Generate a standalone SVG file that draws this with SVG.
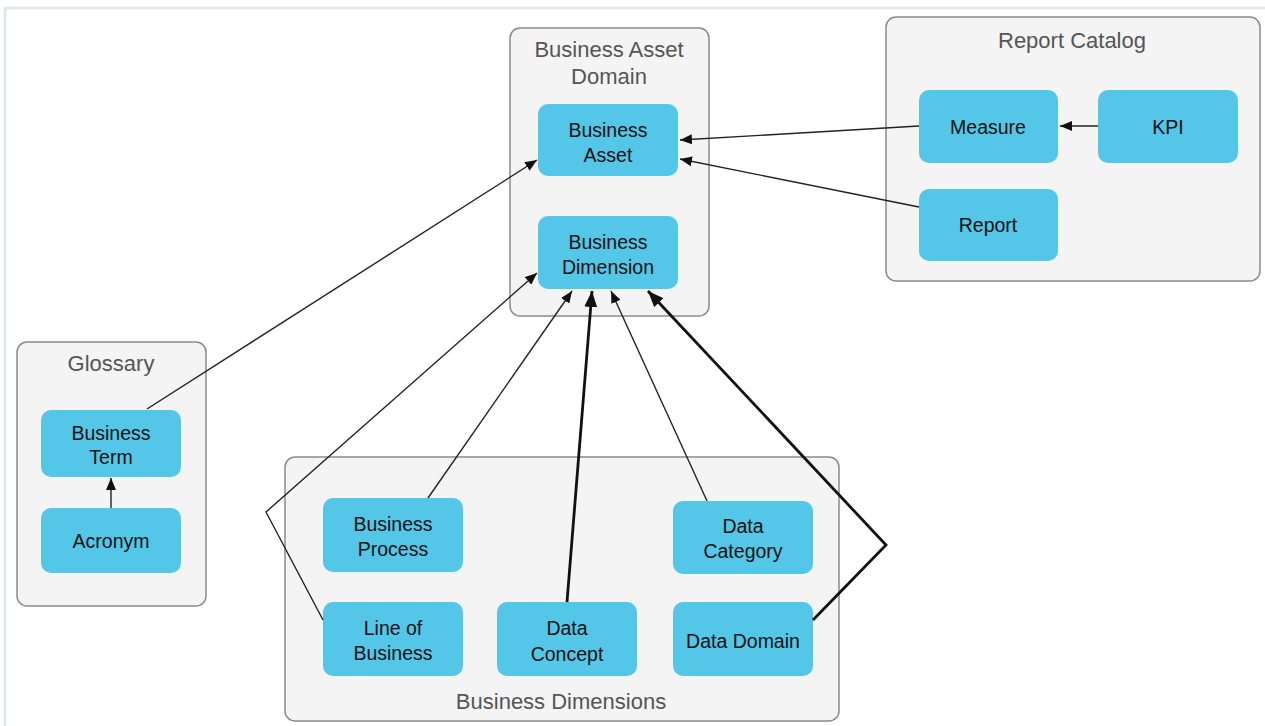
<svg xmlns="http://www.w3.org/2000/svg" width="1265" height="726" viewBox="0 0 1265 726">
<style>
.frame{fill:none;stroke:#dfe5e8;stroke-width:2.5}
.cont{fill:#f4f4f4;stroke:#8a8a8a;stroke-width:1.5}
.node{fill:#54c6e8;stroke:none}
.ct{font-family:"Liberation Sans",Arial,sans-serif;font-size:22px;fill:#555;text-anchor:middle}
.nt{font-family:"Liberation Sans",Arial,sans-serif;font-size:19.5px;fill:#111;text-anchor:middle}
.thin{fill:none;stroke:#222;stroke-width:1.4}
.thick{fill:none;stroke:#111;stroke-width:2.8}
</style>
<defs>
<marker id="arr" viewBox="0 0 12 10" refX="12" refY="5" markerWidth="12" markerHeight="10" markerUnits="userSpaceOnUse" orient="auto">
<path d="M0,0 L12,5 L0,10 Z" fill="#111"/>
</marker>
<marker id="arrB" viewBox="0 0 16 13" refX="16" refY="6.5" markerWidth="16" markerHeight="13" markerUnits="userSpaceOnUse" orient="auto">
<path d="M0,0 L16,6.5 L0,13 Z" fill="#111"/>
</marker>
</defs>
<rect width="1265" height="726" fill="#fff"/>
<path class="frame" d="M5,726 L5,8 L1265,8"/>

<g id="business-asset-domain">
<rect class="cont" x="510" y="28" width="199" height="288" rx="10"/>
<text class="ct" x="609" y="57">Business Asset</text>
<text class="ct" x="609" y="84">Domain</text>
</g>
<g id="report-catalog">
<rect class="cont" x="886" y="17" width="374" height="264" rx="10"/>
<text class="ct" x="1072" y="48">Report Catalog</text>
</g>
<g id="glossary">
<rect class="cont" x="17" y="342" width="189" height="264" rx="10"/>
<text class="ct" x="111" y="371">Glossary</text>
</g>
<g id="business-dimensions">
<rect class="cont" x="285" y="457" width="554" height="264" rx="10"/>
<text class="ct" x="561" y="709">Business Dimensions</text>
</g>

<g id="business-asset">
<rect class="node" x="538" y="104" width="140" height="72" rx="10"/>
<text class="nt" x="608" y="137">Business</text>
<text class="nt" x="608" y="162">Asset</text>
</g>
<g id="business-dimension">
<rect class="node" x="538" y="216" width="140" height="73" rx="10"/>
<text class="nt" x="608" y="249">Business</text>
<text class="nt" x="608" y="274">Dimension</text>
</g>
<g id="measure">
<rect class="node" x="919" y="90" width="139" height="73" rx="10"/>
<text class="nt" x="988" y="134">Measure</text>
</g>
<g id="kpi">
<rect class="node" x="1098" y="90" width="140" height="73" rx="10"/>
<text class="nt" x="1168" y="134">KPI</text>
</g>
<g id="report">
<rect class="node" x="919" y="189" width="139" height="72" rx="10"/>
<text class="nt" x="988" y="232">Report</text>
</g>
<g id="business-term">
<rect class="node" x="41" y="410" width="140" height="67" rx="10"/>
<text class="nt" x="111" y="440">Business</text>
<text class="nt" x="111" y="464">Term</text>
</g>
<g id="acronym">
<rect class="node" x="41" y="508" width="140" height="65" rx="10"/>
<text class="nt" x="111" y="548">Acronym</text>
</g>
<g id="business-process">
<rect class="node" x="323" y="498" width="140" height="74" rx="10"/>
<text class="nt" x="393" y="531">Business</text>
<text class="nt" x="393" y="556">Process</text>
</g>
<g id="data-category">
<rect class="node" x="673" y="501" width="140" height="73" rx="10"/>
<text class="nt" x="743" y="533">Data</text>
<text class="nt" x="743" y="558">Category</text>
</g>
<g id="line-of-business">
<rect class="node" x="323" y="602" width="140" height="74" rx="10"/>
<text class="nt" x="393" y="635">Line of</text>
<text class="nt" x="393" y="660">Business</text>
</g>
<g id="data-concept">
<rect class="node" x="497" y="602" width="140" height="74" rx="10"/>
<text class="nt" x="567" y="635">Data</text>
<text class="nt" x="567" y="661">Concept</text>
</g>
<g id="data-domain">
<rect class="node" x="673" y="602" width="140" height="74" rx="10"/>
<text class="nt" x="743" y="648">Data Domain</text>
</g>

<g id="connectors">
<path class="thin" d="M1098,126 L1060,126" marker-end="url(#arr)"/>
<path class="thin" d="M919,126 L680,140" marker-end="url(#arr)"/>
<path class="thin" d="M919,207 L680,159" marker-end="url(#arr)"/>
<path class="thin" d="M147,409 L537,160" marker-end="url(#arr)"/>
<path class="thin" d="M111,508 L111,478" marker-end="url(#arr)"/>
<path class="thin" d="M323,620 L266,512 L537,273" marker-end="url(#arr)"/>
<path class="thin" d="M428,498 L572,291" marker-end="url(#arr)"/>
<path class="thick" d="M567,602 L592,291" marker-end="url(#arrB)"/>
<path class="thin" d="M707,501 L611,291" marker-end="url(#arr)"/>
<path class="thick" d="M813,620 L886,545 L648,291" marker-end="url(#arrB)"/>
</g>
</svg>
